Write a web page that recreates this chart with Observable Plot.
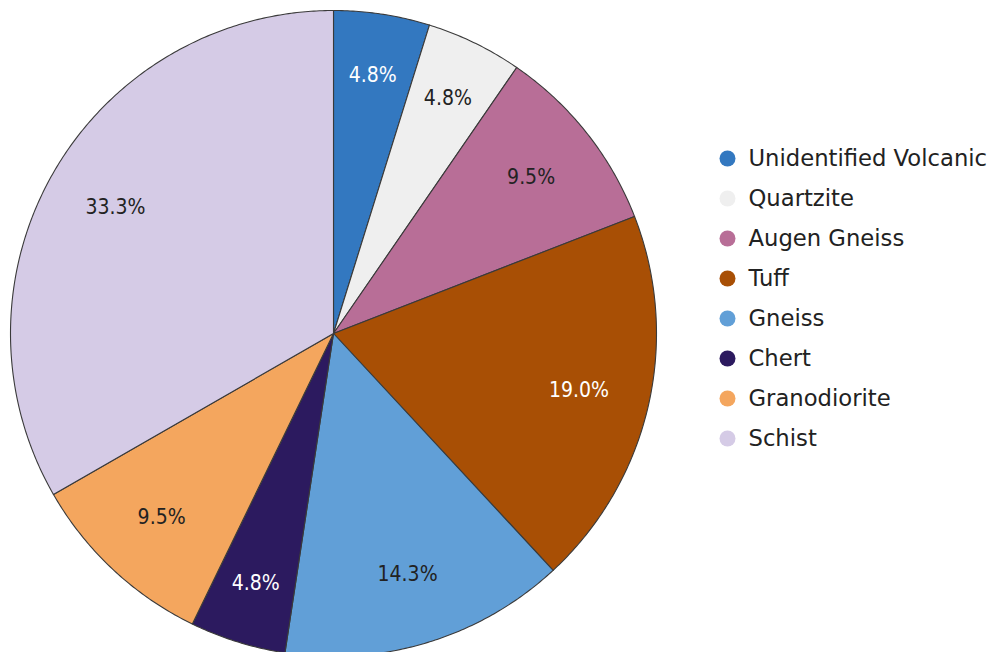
<!DOCTYPE html>
<html><head><meta charset="utf-8">
<script src="https://cdn.jsdelivr.net/npm/d3@7"></script>
<script src="https://cdn.jsdelivr.net/npm/@observablehq/plot@0.6"></script>
<style>
html,body{margin:0;padding:0;background:#fff;overflow:hidden}
#wrap{position:relative;width:995px;height:652px;overflow:hidden}
#legend{position:absolute;left:700px;top:128px}
</style></head><body><div id="wrap"><div id="pie"></div><div id="legend"></div></div>
<script>
const categories = ["Unidentified Volcanic","Quartzite","Augen Gneiss","Tuff","Gneiss","Chert","Granodiorite","Schist"];
const percents = [4.8, 4.8, 9.5, 19.0, 14.3, 4.8, 9.5, 33.3];
const colors = ["#3378c0","#efefef","#b86e97","#a84f05","#619fd7","#2c1a5f","#f4a65e","#d5cbe6"];
const darkSlices = ["Unidentified Volcanic","Tuff","Chert"];

const arcs = d3.pie().sort(null).value(d => d)(percents);
const slices = [];
const labels = [];
arcs.forEach((p, i) => {
  const name = categories[i];
  slices.push({name, x: 0, y: 0});
  const n = Math.max(2, Math.ceil((p.endAngle - p.startAngle) / (Math.PI / 360)));
  for (let k = 0; k <= n; k++) {
    const a = p.startAngle + (p.endAngle - p.startAngle) * k / n;
    slices.push({name, x: Math.sin(a), y: Math.cos(a)});
  }
  slices.push({name, x: 0, y: 0});
  const m = (p.startAngle + p.endAngle) / 2;
  const rf = percents[i] < 5 ? 0.81 : 0.78;
  labels.push({name, text: percents[i].toFixed(1) + "%", x: rf * Math.sin(m), y: rf * Math.cos(m)});
});

const labelFont = "'Liberation Sans Narrow', 'DejaVu Sans Condensed', sans-serif";

const pie = Plot.plot({
  width: 995, height: 652, margin: 0,
  style: {fontFamily: "DejaVu Sans", background: "#fff"},
  x: {domain: [-1, 1], range: [10, 656], axis: null},
  y: {domain: [-1, 1], range: [656, 10], axis: null},
  color: {domain: categories, range: colors},
  marks: [
    Plot.line(slices, {x: "x", y: "y", z: "name", fill: "name", stroke: "#3a3a3a", strokeWidth: 1.1, strokeLinejoin: "round"}),
    Plot.text(labels.filter(d => !darkSlices.includes(d.name)), {x: "x", y: "y", text: "text", fill: "#222", fontSize: 21, fontFamily: labelFont}),
    Plot.text(labels.filter(d => darkSlices.includes(d.name)), {x: "x", y: "y", text: "text", fill: "#fff", fontSize: 21, fontFamily: labelFont})
  ]
});
document.getElementById("pie").append(pie);

const legend = Plot.plot({
  width: 295, height: 340, marginLeft: 27, marginRight: 0, marginTop: 30, marginBottom: 30,
  style: {fontFamily: "DejaVu Sans", background: "transparent", overflow: "visible"},
  y: {type: "point", domain: categories, padding: 0, axis: null},
  color: {domain: categories, range: colors},
  marks: [
    Plot.dot(categories, {y: d => d, r: 8, fill: d => d, frameAnchor: "left"}),
    Plot.text(categories, {y: d => d, text: d => d, frameAnchor: "left", dx: 21, textAnchor: "start", fontSize: 22.7, fill: "#222"})
  ]
});
document.getElementById("legend").append(legend);
</script></body></html>
